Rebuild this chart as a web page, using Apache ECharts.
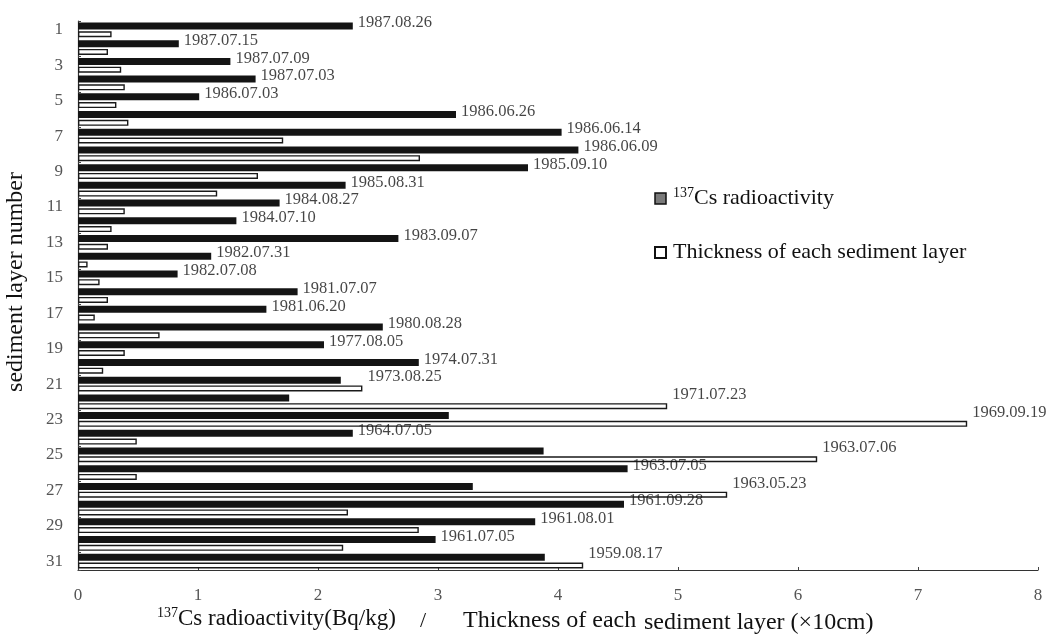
<!DOCTYPE html>
<html>
<head>
<meta charset="utf-8">
<style>
  html, body { margin: 0; padding: 0; background: #fff; }
  #chart { width: 1048px; height: 634px; }
</style>
<script src="https://cdn.jsdelivr.net/npm/echarts/dist/echarts.min.js"></script>
</head>
<body>
<div id="chart"></div>
<script>
// sediment layers, top of the core first
var layers = ['1','2','3','4','5','6','7','8','9','10','11','12','13','14','15','16',
              '17','18','19','20','21','22','23','24','25','26','27','28','29','30','31'];

// 137Cs radioactivity (Bq/kg)
var csActivity = [2.29, 0.84, 1.27, 1.48, 1.01, 3.15, 4.03, 4.17, 3.75, 2.23, 1.68,
                  1.32, 2.67, 1.11, 0.83, 1.83, 1.57, 2.54, 2.05, 2.84, 2.19, 1.76,
                  3.09, 2.29, 3.88, 4.58, 3.29, 4.55, 3.81, 2.98, 3.89];

// thickness of each layer (x10 cm)
var thickness = [0.28, 0.25, 0.36, 0.39, 0.32, 0.42, 1.71, 2.85, 1.50, 1.16, 0.39,
                 0.28, 0.25, 0.08, 0.18, 0.25, 0.14, 0.68, 0.39, 0.21, 2.37, 4.91,
                 7.41, 0.49, 6.16, 0.49, 5.41, 2.25, 2.84, 2.21, 4.21];

// flood event dates assigned to each layer
var dates = ['1987.08.26','1987.07.15','1987.07.09','1987.07.03','1986.07.03','1986.06.26',
             '1986.06.14','1986.06.09','1985.09.10','1985.08.31','1984.08.27','1984.07.10',
             '1983.09.07','1982.07.31','1982.07.08','1981.07.07','1981.06.20','1980.08.28',
             '1977.08.05','1974.07.31','1973.08.25','1971.07.23','1969.09.19','1964.07.05',
             '1963.07.06','1963.07.05','1963.05.23','1961.09.28','1961.08.01','1961.07.05',
             '1959.08.17'];

var CS_NAME = 'Cs radioactivity';
var TH_NAME = 'Thickness of each sediment layer';
var serif = '"Liberation Serif", "DejaVu Serif", serif';

// date label sits at the end of the longer bar of each layer
var labelPts = layers.map(function (l, i) {
    return [Math.max(csActivity[i], thickness[i]), l];
});

var myChart = echarts.init(document.getElementById('chart'));

var option = {
    backgroundColor: '#fff',
    animation: false,
    textStyle: { fontFamily: serif },
    grid: { left: 78, right: 10, top: 21, bottom: 64 },
    legend: {
        orient: 'vertical',
        left: 649,
        top: 181,
        itemWidth: 11,
        itemHeight: 11,
        itemGap: 32,
        icon: 'rect',
        data: [
            { name: CS_NAME, itemStyle: { color: '#7a7a7a', borderColor: '#111', borderWidth: 1.5 } },
            { name: TH_NAME, itemStyle: { color: '#fff', borderColor: '#111', borderWidth: 2 } }
        ],
        formatter: function (name) {
            return name === CS_NAME ? '{sup|137}{t|' + name + '}' : '{t|' + name + '}';
        },
        textStyle: {
            fontFamily: serif,
            color: '#111',
            padding: [0, 0, 0, 2],
            rich: {
                sup: { fontFamily: serif, fontSize: 14, color: '#111', padding: [0, 0, 11, 0] },
                t: { fontFamily: serif, fontSize: 22, color: '#111' }
            }
        }
    },
    xAxis: {
        type: 'value',
        min: 0,
        max: 8,
        interval: 1,
        axisLine: { show: true, lineStyle: { color: '#333', width: 1.2 } },
        axisTick: { show: true, inside: true, length: 3, lineStyle: { color: '#444' } },
        splitLine: { show: false },
        axisLabel: {
            margin: 17,
            fontFamily: serif,
            fontSize: 17,
            color: '#555'
        }
    },
    yAxis: {
        type: 'category',
        inverse: true,
        data: layers,
        axisLine: { show: true, lineStyle: { color: '#333', width: 1.2 } },
        axisTick: { show: true, inside: true, length: 3, lineStyle: { color: '#444' } },
        axisLabel: {
            interval: 1,
            margin: 15,
            fontFamily: serif,
            fontSize: 17,
            color: '#555'
        }
    },
    series: [
        {
            name: CS_NAME,
            type: 'bar',
            barWidth: 7,
            barGap: '25%',
            itemStyle: { color: '#141414' },
            data: csActivity
        },
        {
            name: TH_NAME,
            type: 'bar',
            barWidth: 6,
            itemStyle: { color: '#fff', borderColor: '#1a1a1a', borderWidth: 1.4 },
            data: thickness
        },
        {
            name: 'dates',
            type: 'scatter',
            symbolSize: 0,
            silent: true,
            data: labelPts,
            label: {
                show: true,
                position: 'right',
                distance: 5,
                offset: [0, -7],
                fontFamily: serif,
                fontSize: 16.5,
                color: '#151515',
                formatter: function (p) { return dates[p.dataIndex]; }
            }
        }
    ],
    graphic: [
        {
            type: 'text',
            x: 16, y: 282,
            rotation: Math.PI / 2,
            style: {
                text: 'sediment layer number',
                font: '24px ' + serif,
                fill: '#111',
                align: 'center',
                verticalAlign: 'middle'
            }
        },
        {
            type: 'text',
            left: 157, top: 606,
            style: {
                text: '{sup|137}{t|Cs radioactivity(Bq/kg)}',
                fill: '#111',
                rich: {
                    sup: { fontFamily: serif, fontSize: 14, fill: '#111', padding: [0, 0, 12, 0] },
                    t: { fontFamily: serif, fontSize: 23, fill: '#111' }
                }
            }
        },
        {
            type: 'text',
            left: 420, top: 610,
            style: { text: '/', font: '22px ' + serif, fill: '#111' }
        },
        {
            type: 'text',
            left: 463, top: 609,
            style: { text: 'Thickness of each', font: '24px ' + serif, fill: '#111' }
        },
        {
            type: 'text',
            left: 644, top: 611,
            style: { text: 'sediment layer (\u00d710cm)', font: '24px ' + serif, fill: '#111' }
        }
    ]
};

myChart.setOption(option);
</script>
</body>
</html>
